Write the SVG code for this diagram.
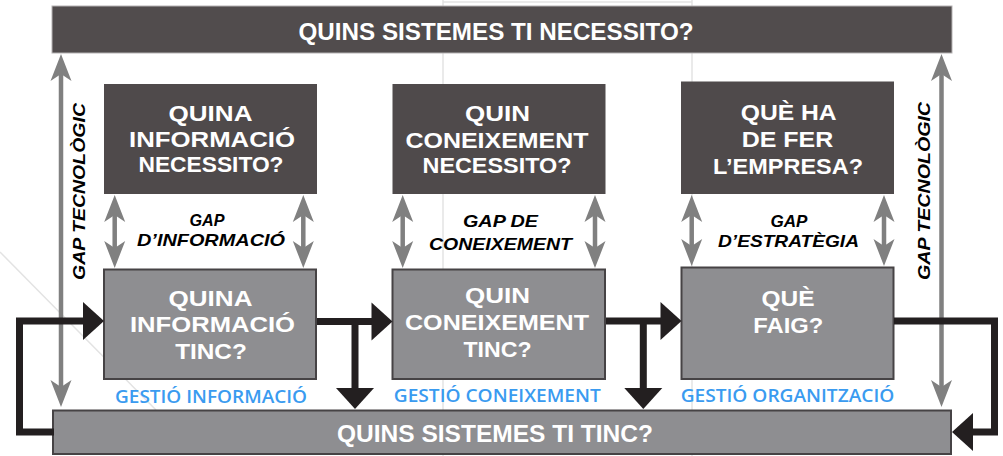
<svg xmlns="http://www.w3.org/2000/svg" xmlns:xlink="http://www.w3.org/1999/xlink" width="1003" height="456" viewBox="0 0 1003 456">
<style>
.dk{fill:#4f4a4b}
.md{fill:#8e8e91;stroke:#464345;stroke-width:2}
.t{font-family:"Liberation Sans","Open Sans",sans-serif;font-weight:700;fill:#ffffff;text-anchor:middle;font-size:22.5px}
.bar{font-size:24px}
.g{font-family:"Liberation Sans","Open Sans",sans-serif;font-weight:700;font-style:italic;fill:#000000;text-anchor:middle;font-size:17px}
.bl{font-family:"Open Sans","Liberation Sans",sans-serif;font-weight:600;fill:#3a9bf0;text-anchor:middle;font-size:18.5px}
.ga{stroke:#808080;stroke-width:4.5;fill:none}
.gh{fill:#808080}
.bk{stroke:#231f20;stroke-width:7;fill:none;stroke-linejoin:miter}
.bh{fill:#231f20}
.faint{stroke:#e3e3e3;stroke-width:1.5;fill:none}
</style>
<defs>
<path id="gu" d="M0,0 L10.5,27 L0,20 L-10.5,27 Z"/>
<path id="gd" d="M0,0 L10.5,-27 L0,-20 L-10.5,-27 Z"/>
<path id="br" d="M0,0 L-21,-19 L-21,19 Z"/>
<path id="bd" d="M0,0 L-19,-21 L19,-21 Z"/>
<path id="bw" d="M0,0 L21,-19 L21,19 Z"/>
</defs>

<g id="background">
<path class="faint" d="M443,0 V456 M692,0 V456 M443,2 H692"/>
<path class="faint" d="M0,252 L156,410"/>
</g>

<g id="top-bar">
<rect x="52" y="6" width="900" height="47" fill="#514c4d" stroke="#b5b2b3" stroke-width="1"/>
<text class="t bar" x="496" y="40" textLength="395" lengthAdjust="spacingAndGlyphs">QUINS SISTEMES TI NECESSITO?</text>
</g>

<g id="box-info-need">
<rect class="dk" x="104" y="84" width="213" height="110"/>
<text class="t" x="210.5" y="120.7" textLength="84" lengthAdjust="spacingAndGlyphs">QUINA</text>
<text class="t" x="212" y="146.7" textLength="166" lengthAdjust="spacingAndGlyphs">INFORMACIÓ</text>
<text class="t" x="211" y="171.7" textLength="145" lengthAdjust="spacingAndGlyphs">NECESSITO?</text>
</g>

<g id="box-know-need">
<rect class="dk" x="392.5" y="84" width="213" height="110"/>
<text class="t" x="497.5" y="120.7" textLength="65" lengthAdjust="spacingAndGlyphs">QUIN</text>
<text class="t" x="497" y="148.3" textLength="183" lengthAdjust="spacingAndGlyphs">CONEIXEMENT</text>
<text class="t" x="497" y="173.3" textLength="149" lengthAdjust="spacingAndGlyphs">NECESSITO?</text>
</g>

<g id="box-company-need">
<rect class="dk" x="681" y="81.5" width="213" height="112.5"/>
<text class="t" x="788.7" y="120" textLength="96" lengthAdjust="spacingAndGlyphs">QUÈ HA</text>
<text class="t" x="787.5" y="146.7" textLength="91.6" lengthAdjust="spacingAndGlyphs">DE FER</text>
<text class="t" x="788" y="174" textLength="150" lengthAdjust="spacingAndGlyphs">L’EMPRESA?</text>
</g>

<g id="box-info-have">
<rect class="md" x="104" y="269.5" width="212" height="109.5"/>
<text class="t" x="210.5" y="305.7" textLength="84" lengthAdjust="spacingAndGlyphs">QUINA</text>
<text class="t" x="212.5" y="332.3" textLength="165" lengthAdjust="spacingAndGlyphs">INFORMACIÓ</text>
<text class="t" x="211" y="359" textLength="71.7" lengthAdjust="spacingAndGlyphs">TINC?</text>
</g>

<g id="box-know-have">
<rect class="md" x="392.5" y="269.5" width="212.5" height="109.5"/>
<text class="t" x="497.5" y="303.3" textLength="65" lengthAdjust="spacingAndGlyphs">QUIN</text>
<text class="t" x="497" y="330" textLength="184" lengthAdjust="spacingAndGlyphs">CONEIXEMENT</text>
<text class="t" x="497.5" y="356.7" textLength="68" lengthAdjust="spacingAndGlyphs">TINC?</text>
</g>

<g id="box-do">
<rect class="md" x="681.5" y="267.5" width="212" height="111.5"/>
<text class="t" x="788" y="305.7" textLength="53" lengthAdjust="spacingAndGlyphs">QUÈ</text>
<text class="t" x="788.3" y="332.7" textLength="70" lengthAdjust="spacingAndGlyphs">FAIG?</text>
</g>

<g id="bottom-bar">
<rect class="md" x="53" y="410.5" width="898" height="43.5"/>
<text class="t bar" x="495" y="441.5" textLength="316" lengthAdjust="spacingAndGlyphs">QUINS SISTEMES TI TINC?</text>
</g>

<g id="labels">
<text class="g" x="207" y="225.7" textLength="35" lengthAdjust="spacingAndGlyphs">GAP</text>
<text class="g" x="211" y="245.7" textLength="148" lengthAdjust="spacingAndGlyphs">D’INFORMACIÓ</text>
<text class="g" x="500.5" y="226.7" textLength="75" lengthAdjust="spacingAndGlyphs">GAP  DE</text>
<text class="g" x="500.5" y="250" textLength="143" lengthAdjust="spacingAndGlyphs">CONEIXEMENT</text>
<text class="g" x="789" y="226.7" textLength="37" lengthAdjust="spacingAndGlyphs">GAP</text>
<text class="g" x="788.5" y="246.7" textLength="141" lengthAdjust="spacingAndGlyphs">D’ESTRATÈGIA</text>
<text class="g" transform="translate(84.5,191.5) rotate(-90)" x="0" y="0" textLength="177" lengthAdjust="spacingAndGlyphs">GAP  TECNOLÒGIC</text>
<text class="g" transform="translate(929.5,191) rotate(-90)" x="0" y="0" textLength="178" lengthAdjust="spacingAndGlyphs">GAP  TECNOLÒGIC</text>
<text class="bl" x="211" y="402.7" textLength="192" lengthAdjust="spacingAndGlyphs">GESTIÓ INFORMACIÓ</text>
<text class="bl" x="497.3" y="401.7" textLength="207" lengthAdjust="spacingAndGlyphs">GESTIÓ CONEIXEMENT</text>
<text class="bl" x="787.5" y="401.7" textLength="213.6" lengthAdjust="spacingAndGlyphs">GESTIÓ ORGANITZACIÓ</text>
</g>

<g id="connectors">
<path class="ga" d="M61,72 V389 M941.5,72 V389 M114.7,213 V250 M303.3,213 V250 M402.7,213 V250 M595,213 V250 M691.7,213 V247 M884,213 V247"/>
<use href="#gu" class="gh" x="61" y="54"/>
<use href="#gd" class="gh" x="61" y="407"/>
<use href="#gu" class="gh" x="941.5" y="54"/>
<use href="#gd" class="gh" x="941.5" y="407"/>
<use href="#gu" class="gh" x="114.7" y="195"/>
<use href="#gd" class="gh" x="114.7" y="268"/>
<use href="#gu" class="gh" x="303.3" y="195"/>
<use href="#gd" class="gh" x="303.3" y="268"/>
<use href="#gu" class="gh" x="402.7" y="195"/>
<use href="#gd" class="gh" x="402.7" y="268"/>
<use href="#gu" class="gh" x="595" y="195"/>
<use href="#gd" class="gh" x="595" y="268"/>
<use href="#gu" class="gh" x="691.7" y="195"/>
<use href="#gd" class="gh" x="691.7" y="266"/>
<use href="#gu" class="gh" x="884" y="195"/>
<use href="#gd" class="gh" x="884" y="266"/>

<path class="bk" d="M54,432 H19.5 V321 H85"/>
<use href="#br" class="bh" x="104" y="321"/>
<path class="bk" d="M317,321.5 H372 M355,321.5 V390"/>
<use href="#br" class="bh" x="392.5" y="321.5"/>
<use href="#bd" class="bh" x="355" y="409"/>
<path class="bk" d="M606,321 H662 M643.3,321 V390"/>
<use href="#br" class="bh" x="681.5" y="321"/>
<use href="#bd" class="bh" x="643.3" y="409"/>
<path class="bk" d="M894,321 H994.5 V432 H971"/>
<use href="#bw" class="bh" x="952" y="432"/>
</g>
</svg>
